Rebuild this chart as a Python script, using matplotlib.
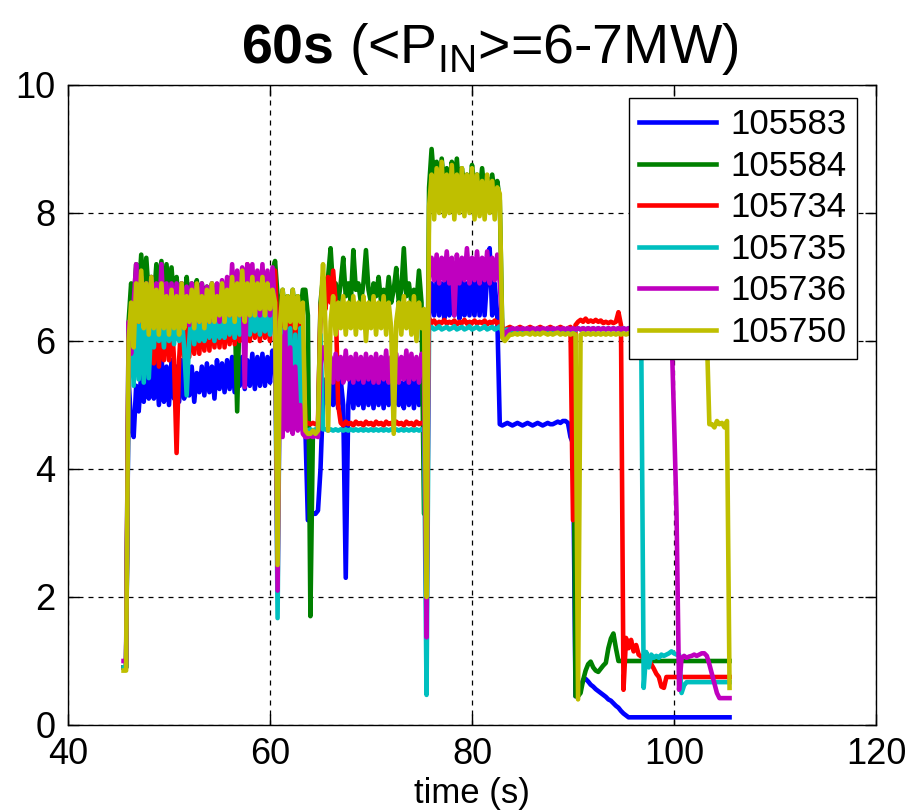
import numpy as np
import matplotlib
matplotlib.use("Agg")
import matplotlib.pyplot as plt
from matplotlib import font_manager

# ---------------------------------------------------------------------------
# Data: injected power traces sampled every 0.25 s from 45.5 s to 105.5 s
# ---------------------------------------------------------------------------
time_s = 45.5 + 0.25 * np.arange(241)

shots = ["105583", "105584", "105734", "105735", "105736", "105750"]
colors = ["#0000ff", "#008000", "#ff0000", "#00bfbf", "#bf00bf", "#bfbf00"]

p_105583 = (
    [0.9, 0.9, 5.4, 4.7, 4.5, 5.3, 4.9, 5.5, 5.05, 5.7, 5.1, 5.85, 5.1, 5.7, 5.0, 5.8, 5.05, 5.6, 5.0, 5.7]
    + [5.1, 5.6, 5.05, 5.7, 5.1, 5.55, 5.15, 5.6, 5.05, 5.5, 5.2, 5.6, 5.15, 5.65, 5.2, 5.6, 5.1, 5.7, 5.25, 5.65]
    + [5.2, 5.7, 5.25, 5.75, 5.2, 5.7, 5.3, 5.75, 5.25, 5.7, 5.3, 5.8, 5.25, 5.75, 5.3, 5.8, 5.3, 5.75, 5.35, 5.85]
    + [5.8, 4.7, 4.65, 4.7, 4.65, 4.7, 4.65, 4.7, 4.65, 4.7, 4.65, 4.7, 4.65, 3.2, 3.25, 3.3, 3.3, 3.35, 4.0, 5.1]
    + [5.4, 5.0, 5.5, 5.0, 5.45, 4.95, 5.4, 5.0, 2.3, 5.0, 5.5, 4.95, 5.4, 5.0, 5.5, 4.95, 5.45, 5.0, 5.4, 4.95]
    + [5.45, 5.0, 5.4, 4.95, 5.5, 5.0, 5.4, 4.95, 5.45, 5.0, 5.35, 4.95, 5.45, 5.0, 5.4, 4.95, 5.5, 5.0, 5.6, 5.0]
    + [5.0, 6.4, 6.9, 6.4, 6.95, 6.4, 6.9, 6.35, 7.1, 6.4, 6.9, 6.4, 6.95, 6.35, 7.1, 6.4, 6.9, 6.4, 6.95, 6.4]
    + [7.0, 6.4, 6.95, 6.4, 7.0, 7.45, 6.4, 6.9, 6.4, 4.7, 4.68, 4.7, 4.72, 4.7, 4.68, 4.7, 4.72, 4.7, 4.68, 4.7]
    + [4.72, 4.7, 4.68, 4.7, 4.72, 4.7, 4.68, 4.7, 4.72, 4.7, 4.7, 4.72, 4.74, 4.72, 4.75, 4.75, 4.72, 4.5, 4.4, 0.45]
    + [0.45, 0.6, 0.7, 0.72, 0.68, 0.63, 0.6, 0.56, 0.53, 0.5, 0.47, 0.44, 0.4, 0.38, 0.34, 0.3, 0.27, 0.22, 0.18, 0.15]
    + [0.12] * 20
    + [0.12] * 20
    + [0.12]
)

p_105584 = (
    [0.9, 0.9, 6.3, 6.9, 6.6, 7.2, 6.7, 7.35, 6.6, 7.3, 6.7, 7.0, 6.6, 7.2, 6.7, 7.25, 6.6, 7.2, 6.7, 7.15]
    + [6.6, 7.0, 6.5, 6.9, 6.6, 7.0, 6.5, 6.9, 6.6, 6.95, 6.5, 6.9, 6.6, 6.85, 6.5, 6.9, 6.6, 6.85, 6.5, 6.9]
    + [6.6, 6.9, 6.6, 6.95, 6.5, 4.9, 6.6, 7.0, 6.6, 6.95, 6.7, 7.05, 6.6, 7.0, 6.7, 7.0, 6.6, 7.05, 6.7, 7.1]
    + [7.25, 6.7, 6.4, 6.8, 6.4, 6.7, 6.4, 6.8, 6.4, 6.7, 6.4, 6.8, 6.8, 6.4, 1.7, 4.6, 4.55, 4.6, 6.6, 7.0]
    + [6.7, 7.0, 7.45, 6.8, 6.9, 6.6, 6.9, 7.3, 6.7, 6.9, 6.6, 7.42, 6.8, 6.9, 6.6, 6.9, 7.42, 6.8, 6.6, 6.9]
    + [6.7, 7.0, 6.6, 6.8, 6.6, 7.0, 6.6, 6.8, 7.14, 6.6, 6.8, 7.45, 6.7, 6.9, 6.6, 6.8, 6.6, 7.1, 6.6, 3.3]
    + [3.3, 8.4, 9.0, 8.5, 8.8, 8.3, 8.85, 8.4, 8.7, 8.3, 8.8, 8.4, 8.85, 8.3, 8.7, 8.4, 8.6, 8.3, 8.75, 8.4]
    + [8.6, 8.3, 8.7, 8.3, 8.55, 8.3, 8.6, 8.3, 8.5, 8.2] + [6.15] * 10
    + [6.15] * 19 + [0.45]
    + [0.45, 0.5, 0.7, 0.85, 0.95, 0.99, 0.9, 0.85, 0.83, 0.88, 0.93, 0.97, 1.2, 1.35, 1.43, 1.2, 1.0, 1.0, 1.0, 1.0]
    + [1.0] * 20
    + [1.0] * 20
    + [1.0]
)

p_105734 = (
    [0.9, 0.9, 5.8, 6.3, 5.7, 6.5, 5.8, 6.4, 5.7, 6.6, 5.6, 6.4, 5.65, 6.5, 5.6, 6.4, 5.7, 6.5, 5.7, 6.4]
    + [5.7, 4.25, 5.7, 6.4, 5.75, 6.5, 5.75, 6.4, 5.8, 6.5, 5.8, 6.4, 5.85, 6.5, 5.85, 6.5, 5.9, 6.5, 5.9, 6.6]
    + [5.9, 6.5, 5.95, 6.6, 5.95, 6.6, 6.0, 7.0, 6.0, 7.2, 6.0, 6.7, 6.05, 6.6, 6.0, 6.7, 6.05, 6.8, 6.0, 7.1]
    + [7.1, 6.1, 6.3, 6.0, 6.4, 6.0, 6.3, 6.0, 6.4, 6.0, 6.3, 6.0, 4.7, 4.72, 4.7, 4.72, 4.7, 4.72, 6.5, 6.9]
    + [6.5, 7.0, 6.6, 7.1, 6.6, 5.0, 4.72, 4.68, 4.74, 4.7, 4.72, 4.68, 4.74, 4.7, 4.72, 4.68, 4.74, 4.7, 4.72, 4.68]
    + [4.74, 4.7, 4.72, 4.68, 4.74, 4.7, 4.72, 4.68, 4.74, 4.7, 4.72, 4.68, 4.74, 4.7, 4.72, 4.68, 4.74, 4.7, 4.72, 4.72]
    + [4.72, 6.35, 6.28, 6.32, 6.26, 6.3, 6.28, 6.33, 6.27, 6.3, 6.28, 6.32, 6.26, 6.3, 6.28, 6.33, 6.27, 6.3, 6.28, 6.32]
    + [6.27, 6.3, 6.28, 6.32, 6.26, 6.3, 6.28, 6.32, 6.27, 6.3, 6.2, 6.18, 6.2, 6.22, 6.2, 6.18, 6.2, 6.22, 6.2, 6.18]
    + [6.2, 6.22, 6.2, 6.18, 6.2, 6.22, 6.2, 6.18, 6.2, 6.22, 6.2, 6.18, 6.2, 6.22, 6.2, 6.18, 6.2, 6.22, 3.2, 6.25]
    + [6.3, 6.33, 6.3, 6.35, 6.3, 6.32, 6.3, 6.33, 6.3, 6.32, 6.28, 6.3, 6.28, 6.3, 6.28, 6.3, 6.45, 6.25, 0.55, 1.36]
    + [1.2, 1.33, 1.15, 1.25, 1.1, 1.07, 1.05, 1.03, 1.02, 0.95, 0.88, 0.8, 0.75, 0.6, 0.58, 0.75, 0.75, 0.75, 0.75, 0.75]
    + [0.75] * 20
    + [0.75]
)

p_105735 = (
    [0.9, 0.9, 5.5, 6.3, 5.3, 6.4, 5.4, 6.5, 5.35, 6.4, 5.42, 6.3, 5.9, 6.5, 6.0, 6.4, 5.9, 6.5, 6.0, 6.4]
    + [5.95, 6.5, 6.0, 6.4, 5.9, 5.15, 6.0, 6.5, 5.95, 6.4, 6.0, 6.5, 6.0, 6.4, 6.05, 6.5, 6.0, 6.5, 6.05, 6.4]
    + [6.05, 6.5, 6.1, 6.5, 6.05, 6.5, 6.1, 6.5, 6.1, 6.5, 6.1, 6.5, 6.15, 6.5, 6.1, 6.5, 6.15, 6.5, 6.1, 6.5]
    + [6.2, 1.67, 6.2, 4.7, 6.25, 4.8, 6.2, 4.7, 6.1, 4.65, 6.2, 4.6, 4.62, 4.6, 4.62, 4.6, 4.62, 4.6, 6.1, 4.62]
    + [4.62, 4.6] * 10
    + [4.62, 4.6] * 10
    + [0.47, 6.2, 6.22, 6.18, 6.2, 6.23, 6.18, 6.2, 6.22, 6.18, 6.2, 6.23, 6.18, 6.2, 6.22, 6.18, 6.2, 6.23, 6.18, 6.2]
    + [6.22, 6.18, 6.2, 6.23, 6.18, 6.2, 6.22, 6.18, 6.2, 6.23, 6.15, 6.17, 6.18, 6.16, 6.18, 6.17, 6.18, 6.16, 6.18, 6.17]
    + [6.18, 6.17] * 10
    + [6.2, 6.18] * 10
    + [6.2, 6.18, 6.2, 6.18, 6.2, 6.18, 0.58, 1.14, 0.9, 1.1, 1.05, 1.08, 1.05, 1.1, 1.08, 1.1, 1.12, 1.15, 1.12, 1.1]
    + [1.1, 0.5, 0.62] + [0.67] * 17
    + [0.67]
)

p_105736 = (
    [1.0, 1.0, 6.3, 5.8, 6.6, 7.2, 6.3, 7.0, 6.4, 6.9, 6.3, 7.0, 6.3, 6.9, 6.2, 7.2, 6.3, 6.9, 6.2, 6.9]
    + [6.3, 6.9, 6.25, 6.9, 6.3, 6.85, 6.25, 6.9, 6.3, 6.85, 6.3, 6.9, 6.3, 6.85, 6.3, 6.9, 6.35, 6.9, 6.3, 6.95]
    + [6.35, 7.0, 6.4, 7.2, 6.4, 7.1, 6.4, 7.15, 5.28, 7.2, 6.4, 7.2, 6.45, 7.1, 6.4, 7.2, 6.45, 7.1, 6.4, 7.15]
    + [6.5, 2.1, 6.1, 4.5, 6.2, 4.6, 5.9, 4.55, 5.6, 4.6, 5.0, 4.55, 4.5, 4.5, 4.52, 4.5, 4.52, 4.5, 5.6, 5.9]
    + [5.8, 5.3, 5.75, 5.35, 5.8, 5.4, 5.75, 5.35, 5.85, 5.4, 5.75, 5.35, 5.8, 5.4, 5.75, 5.35, 5.8, 5.4, 5.75, 5.35]
    + [5.8, 5.35, 5.75, 5.4, 5.85, 5.35, 5.75, 5.4, 5.8, 5.35, 5.75, 5.4, 5.85, 5.35, 5.8, 5.4, 5.75, 5.35, 5.8, 5.6]
    + [1.37, 7.0, 7.3, 6.95, 7.35, 6.9, 7.3, 6.95, 7.4, 6.9, 7.3, 6.4, 7.35, 6.9, 7.3, 6.95, 7.45, 6.9, 7.3, 6.95]
    + [7.4, 6.9, 7.3, 6.95, 7.4, 6.9, 7.3, 6.95, 7.35, 6.9, 6.2, 6.05, 6.15, 6.18, 6.2, 6.18, 6.2, 6.18, 6.2, 6.18]
    + [6.2, 6.18] * 10
    + [6.2, 6.18] * 10
    + [6.2, 6.18] * 9 + [4.8, 3.3]
    + [0.55, 1.05, 1.08, 1.05, 1.07, 1.08, 1.1, 1.08, 1.1, 1.12, 1.12, 1.08, 0.95, 0.8, 0.65, 0.5, 0.42, 0.42, 0.42, 0.42]
    + [0.42]
)

p_105750 = (
    [0.85, 0.85, 6.0, 6.6, 5.9, 6.9, 6.3, 7.1, 6.2, 6.9, 6.1, 7.0, 6.2, 6.8, 6.1, 6.9, 6.2, 6.7, 6.1, 6.8]
    + [6.2, 6.7, 6.1, 6.9, 6.2, 6.7, 6.3, 6.8, 6.2, 6.9, 6.3, 6.7, 6.2, 6.8, 6.3, 6.9, 6.3, 6.7, 6.4, 6.9]
    + [6.3, 6.8, 6.4, 7.0, 6.3, 6.9, 6.4, 7.1, 6.3, 6.9, 6.4, 7.0, 6.4, 6.9, 6.5, 7.0, 6.4, 6.9, 6.5, 6.8]
    + [6.6, 2.5, 6.3, 6.8, 6.2, 6.7, 6.3, 6.8, 6.2, 6.7, 6.3, 6.6, 4.6, 4.55, 4.55, 4.6, 4.55, 4.6, 6.4, 7.2]
    + [6.2, 4.6, 6.3, 6.7, 6.1, 6.6, 6.2, 6.7, 6.1, 6.6, 6.2, 6.7, 6.1, 6.6, 6.2, 6.7, 6.0, 6.6, 6.2, 6.7]
    + [6.1, 6.6, 6.2, 6.7, 6.1, 6.6, 6.2, 4.55, 6.3, 6.6, 6.1, 6.7, 6.2, 6.6, 6.1, 6.7, 6.0, 6.6, 6.2, 6.5]
    + [2.0, 8.1, 8.6, 7.9, 8.7, 8.0, 8.8, 7.95, 8.6, 8.0, 8.75, 7.9, 8.6, 8.0, 8.7, 7.95, 8.6, 8.0, 8.7, 7.9]
    + [8.6, 7.95, 8.5, 7.9, 8.6, 8.0, 8.5, 7.9, 8.4, 8.3, 6.05, 6.0, 6.05, 6.1, 6.1, 6.12, 6.1, 6.12, 6.1, 6.12]
    + [6.12, 6.1, 6.13, 6.1, 6.12, 6.1, 6.13, 6.12, 6.1, 6.12, 6.1, 6.12, 6.13, 6.1, 6.12, 6.1, 6.12, 6.1, 6.12, 6.1]
    + [0.4] + [6.1, 6.12] * 9 + [6.1]
    + [6.12, 6.1] * 10
    + [6.12, 6.1] * 6 + [4.7, 4.7, 4.65, 4.75, 4.7, 4.72, 4.65, 4.75]
    + [0.58]
)

series = [p_105583, p_105584, p_105734, p_105735, p_105736, p_105750]

x_ticks = [40, 60, 80, 100, 120]
y_ticks = [0, 2, 4, 6, 8, 10]

# ---------------------------------------------------------------------------
# Fonts
# ---------------------------------------------------------------------------
installed = {f.name for f in font_manager.fontManager.ttflist}
narrow = "Liberation Sans Narrow" if "Liberation Sans Narrow" in installed else "Liberation Sans"
plt.rcParams["font.family"] = [narrow, "DejaVu Sans"]
plt.rcParams["mathtext.fontset"] = "custom"
plt.rcParams["mathtext.rm"] = narrow
plt.rcParams["mathtext.bf"] = narrow + ":bold"

# ---------------------------------------------------------------------------
# Figure
# ---------------------------------------------------------------------------
fig = plt.figure(figsize=(9.17, 8.10), dpi=100)
ax = fig.add_axes([68 / 917, 85 / 810, 808 / 917, 640 / 810])

for shot, vals, col in zip(shots, series, colors):
    ax.plot(time_s, vals, color=col, lw=3.3, label=shot)

ax.set_xlim(40, 120)
ax.set_ylim(0, 10)
ax.set_xticks(x_ticks)
ax.set_yticks(y_ticks)
ax.tick_params(direction="in", length=8, width=1, top=True, right=True,
               labelsize=26, pad=9)
ax.grid(True, color="black", linestyle=(0, (4, 4)), linewidth=0.9)
ax.set_axisbelow(True)
for sp in ax.spines.values():
    sp.set_linewidth(1.0)

ax.set_xlabel("time (s)", fontsize=25, labelpad=3)

leg = ax.legend(loc="upper right", bbox_to_anchor=(0.9765, 0.98), borderaxespad=0,
                prop={"family": "Liberation Sans", "size": 25},
                handlelength=2.2, handletextpad=0.42, labelspacing=0.245,
                borderpad=0.3, fancybox=False, framealpha=1, edgecolor="black")
leg.get_frame().set_linewidth(1.0)

fig.text(0.534, 0.922, r"$\mathbf{60s}$ (<P$_\mathrm{IN}$>=6-7MW)",
         ha="center", va="baseline", fontsize=40)

fig.savefig("out.png", dpi=100)
